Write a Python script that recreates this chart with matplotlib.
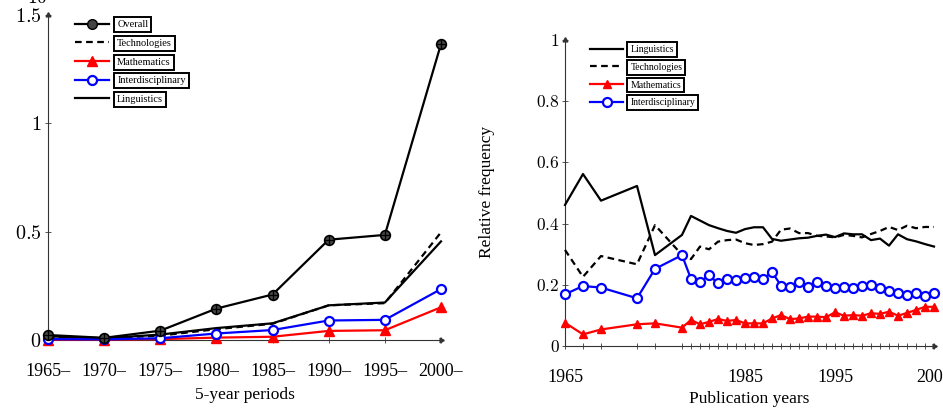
import matplotlib
matplotlib.use("Agg")
import matplotlib.pyplot as plt
from matplotlib.lines import Line2D

plt.rcParams['font.family'] = ['Liberation Serif', 'DejaVu Serif']
plt.rcParams['mathtext.fontset'] = 'cm'

# ---------------- data: left panel (5-year periods, x10^5 terms) ----------------
periods = ['1965–', '1970–', '1975–', '1980–', '1985–', '1990–', '1995–', '2000–']
overall = [0.023, 0.010, 0.043, 0.145, 0.210, 0.463, 0.485, 1.366]
technologies_p = [0.015, 0.008, 0.020, 0.050, 0.075, 0.160, 0.170, 0.497]
mathematics_p = [0.002, 0.002, 0.004, 0.011, 0.015, 0.042, 0.045, 0.151]
interdisc_p = [0.004, 0.003, 0.008, 0.030, 0.046, 0.090, 0.093, 0.235]
linguistics_p = [0.017, 0.008, 0.025, 0.055, 0.077, 0.160, 0.173, 0.455]
left_yticks = [0, 0.5, 1, 1.5]
left_yticklabels = ['0', '0.5', '1', '1.5']

# ---------------- data: right panel (publication years) ----------------
years = [1965, 1967, 1969, 1973, 1975, 1978, 1979, 1980, 1981, 1982, 1983, 1984,
         1985, 1986, 1987, 1988, 1989, 1990, 1991, 1992, 1993, 1994, 1995, 1996,
         1997, 1998, 1999, 2000, 2001, 2002, 2003, 2004, 2005, 2006]
linguistics_y = [0.461, 0.562, 0.475, 0.523, 0.297, 0.363, 0.425, 0.410, 0.395, 0.385,
                 0.376, 0.370, 0.382, 0.388, 0.388, 0.350, 0.344, 0.348, 0.352, 0.354,
                 0.360, 0.364, 0.356, 0.368, 0.365, 0.365, 0.346, 0.351, 0.328, 0.365,
                 0.349, 0.342, 0.333, 0.325]
technologies_y = [0.314, 0.226, 0.294, 0.267, 0.395, 0.298, 0.284, 0.325, 0.316, 0.341,
                  0.346, 0.348, 0.336, 0.330, 0.333, 0.341, 0.380, 0.384, 0.369, 0.369,
                  0.360, 0.358, 0.355, 0.363, 0.360, 0.355, 0.366, 0.376, 0.389, 0.379,
                  0.393, 0.385, 0.389, 0.389]
mathematics_y = [0.076, 0.038, 0.054, 0.071, 0.074, 0.060, 0.085, 0.071, 0.079, 0.088,
                 0.082, 0.085, 0.074, 0.074, 0.074, 0.090, 0.101, 0.088, 0.090, 0.096,
                 0.096, 0.094, 0.110, 0.099, 0.101, 0.099, 0.107, 0.105, 0.112, 0.099,
                 0.108, 0.118, 0.128, 0.128]
interdisc_y = [0.169, 0.196, 0.191, 0.156, 0.252, 0.297, 0.219, 0.210, 0.231, 0.205,
               0.218, 0.216, 0.223, 0.226, 0.218, 0.242, 0.197, 0.194, 0.208, 0.192,
               0.208, 0.196, 0.188, 0.194, 0.188, 0.197, 0.198, 0.188, 0.181, 0.174,
               0.167, 0.174, 0.164, 0.174]
right_xlabeled = [1965, 1985, 1995, 2006]
right_yticks = [0, 0.2, 0.4, 0.6, 0.8, 1]
right_yticklabels = ['0', '0.2', '0.4', '0.6', '0.8', '1']

W, H = 943, 418
fig = plt.figure(figsize=(W / 100, H / 100), dpi=100)

RED = '#ff0000'
BLUE = '#0000ff'
AXC = '#333333'
LW = 1.6
DASH = (3.0, 2.0)


def style_axes(ax):
    for s in ('top', 'right'):
        ax.spines[s].set_visible(False)
    for s in ('left', 'bottom'):
        ax.spines[s].set_color(AXC)
        ax.spines[s].set_linewidth(0.8)
    ax.tick_params(direction='inout', length=5, width=0.7, color='#555555')
    # arrow heads at axis ends
    ax.plot(1, 0, marker=(3, 0, -90), color=AXC, ms=4, transform=ax.transAxes, clip_on=False)
    ax.plot(0, 1, marker=(3, 0, 0), color=AXC, ms=4, transform=ax.transAxes, clip_on=False)
    ax.patch.set_alpha(0)


def box_legend(ax, handles, anchor, fs, spacing, hl):
    leg = ax.legend(handles=handles, loc='upper left', bbox_to_anchor=anchor,
                    bbox_transform=fig.transFigure, frameon=False, fontsize=fs,
                    handlelength=hl, handletextpad=0.75, labelspacing=spacing,
                    borderpad=0, borderaxespad=0)
    for t in leg.get_texts():
        t.set_bbox(dict(boxstyle='square,pad=0.3', facecolor='white',
                        edgecolor='black', linewidth=1.4))
    return leg


# ---------------- left panel ----------------
axL = fig.add_axes([48 / W, 1 - 340 / H, (441 - 48) / W, (340 - 15) / H])
xs = list(range(len(periods)))
axL.plot(xs, mathematics_p, color=RED, lw=LW, marker='^', ms=6.5, mfc=RED, mec=RED, zorder=3,
         clip_on=False)
axL.plot(xs, interdisc_p, color=BLUE, lw=LW, marker='o', ms=6.5, mfc='white', mec=BLUE,
         mew=1.6, zorder=4, clip_on=False)
axL.plot(xs, technologies_p, color='black', lw=LW, dashes=DASH, zorder=3, clip_on=False)
axL.plot(xs, linguistics_p, color='black', lw=LW, zorder=3, clip_on=False)
axL.plot(xs, overall, color='black', lw=LW, marker='o', ms=7, mfc='#444444', mec='black',
         mew=1.2, zorder=5, clip_on=False)
axL.plot(xs, overall, ls='none', marker='+', ms=6.5, mec='black', mew=0.9, zorder=6,
         clip_on=False)
axL.set_xlim(0, len(periods) - 1)
axL.set_ylim(0, 1.5)
axL.set_xticks(xs)
axL.set_xticklabels(periods, fontsize=13)
axL.set_yticks(left_yticks)
axL.set_yticklabels(['$%s$' % s for s in left_yticklabels], fontsize=14.5)
style_axes(axL)
axL.tick_params(axis='x', pad=14)
axL.tick_params(axis='y', pad=2)
axL.set_xlabel('5-year periods', fontsize=12.5, labelpad=5)
fig.text(-0.0045, 1 - 175 / H, 'Annotated terms', rotation=90, fontsize=12.5,
         ha='center', va='center')
fig.text(27 / W, 1 - 3 / H, '$10$', fontsize=14, ha='left', va='baseline')

hL = [Line2D([], [], color='black', lw=LW, marker='o', ms=7, mfc='#444444', mec='black',
             label='Overall'),
      Line2D([], [], color='black', lw=LW, dashes=DASH, label='Technologies'),
      Line2D([], [], color=RED, lw=LW, marker='^', ms=6.5, mfc=RED, mec=RED,
             label='Mathematics'),
      Line2D([], [], color=BLUE, lw=LW, marker='o', ms=6.5, mfc='white', mec=BLUE, mew=1.6,
             label='Interdisciplinary'),
      Line2D([], [], color='black', lw=LW, label='Linguistics')]
box_legend(axL, hL, (75 / W, 1 - 20 / H), 7.5, 0.9, 3.3)

# ---------------- right panel ----------------
axR = fig.add_axes([565 / W, 1 - 346 / H, (934 - 565) / W, (346 - 40) / H])
axR.plot(years, linguistics_y, color='black', lw=LW, zorder=3, clip_on=False)
axR.plot(years, technologies_y, color='black', lw=LW, dashes=DASH, zorder=3, clip_on=False)
axR.plot(years, mathematics_y, color=RED, lw=LW, marker='^', ms=6, mfc=RED, mec=RED,
         zorder=4, clip_on=False)
axR.plot(years, interdisc_y, color=BLUE, lw=LW, marker='o', ms=6.5, mfc='white', mec=BLUE,
         mew=1.6, zorder=5, clip_on=False)
axR.set_xlim(1965, 2006)
axR.set_ylim(0, 1)
axR.set_xticks(years)
axR.set_xticklabels([str(y) if y in right_xlabeled else '' for y in years], fontsize=13)
axR.set_yticks(right_yticks)
axR.set_yticklabels(['$%s$' % s for s in right_yticklabels], fontsize=12.5)
style_axes(axR)
axR.tick_params(axis='x', pad=14)
axR.tick_params(axis='y', pad=1.5)
axR.set_xlabel('Publication years', fontsize=12.5, labelpad=4)
fig.text(487 / W, 1 - 192 / H, 'Relative frequency', rotation=90, fontsize=12.5,
         ha='center', va='center')

hR = [Line2D([], [], color='black', lw=LW, label='Linguistics'),
      Line2D([], [], color='black', lw=LW, dashes=DASH, label='Technologies'),
      Line2D([], [], color=RED, lw=LW, marker='^', ms=6, mfc=RED, mec=RED,
             label='Mathematics'),
      Line2D([], [], color=BLUE, lw=LW, marker='o', ms=6.5, mfc='white', mec=BLUE, mew=1.6,
             label='Interdisciplinary')]
box_legend(axR, hR, (590 / W, 1 - 45 / H), 7, 0.9, 3.4)

fig.savefig('out.png', dpi=100)
